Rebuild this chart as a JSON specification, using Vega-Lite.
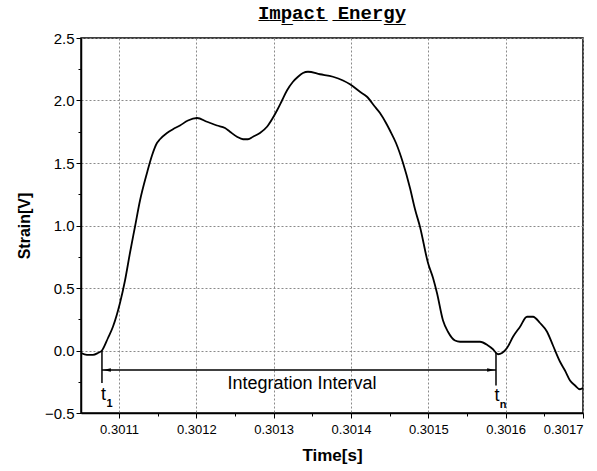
{
  "$schema": "https://vega.github.io/schema/vega-lite/v6.json",
  "width": 502,
  "height": 375,
  "autosize": "none",
  "padding": {"left": 81, "top": 38, "right": 14, "bottom": 58},
  "background": "white",
  "title": {
    "text": "I̲m̲p̲a̲c̲t̲ ̲E̲n̲e̲r̲g̲y̲",
    "font": "Liberation Mono",
    "fontSize": 19,
    "fontWeight": "bold",
    "color": "black",
    "anchor": "middle",
    "offset": 8
  },
  "config": {
    "view": {"stroke": "black", "strokeWidth": 1.5},
    "axis": {
      "domainColor": "black",
      "domainWidth": 1.5,
      "tickColor": "black",
      "labelColor": "black",
      "titleColor": "black",
      "labelFont": "Liberation Sans",
      "titleFont": "Liberation Sans",
      "grid": true,
      "gridColor": "#8a8a8a",
      "gridDash": [2, 2],
      "gridWidth": 1
    }
  },
  "datasets": {
    "curve": [
      {"t": 0.3010509, "v": -0.02},
      {"t": 0.3010586, "v": -0.035},
      {"t": 0.3010664, "v": -0.035},
      {"t": 0.3010728, "v": -0.02},
      {"t": 0.3010780, "v": 0.0},
      {"t": 0.3010858, "v": 0.10},
      {"t": 0.3010922, "v": 0.19},
      {"t": 0.3011013, "v": 0.38},
      {"t": 0.3011078, "v": 0.56},
      {"t": 0.3011142, "v": 0.78},
      {"t": 0.3011207, "v": 0.99},
      {"t": 0.3011272, "v": 1.20},
      {"t": 0.3011362, "v": 1.42},
      {"t": 0.3011427, "v": 1.56},
      {"t": 0.3011491, "v": 1.66},
      {"t": 0.3011530, "v": 1.69},
      {"t": 0.3011621, "v": 1.74},
      {"t": 0.3011698, "v": 1.77},
      {"t": 0.3011789, "v": 1.80},
      {"t": 0.3011892, "v": 1.84},
      {"t": 0.3012009, "v": 1.86},
      {"t": 0.3012138, "v": 1.83},
      {"t": 0.3012267, "v": 1.80},
      {"t": 0.3012371, "v": 1.78},
      {"t": 0.3012435, "v": 1.75},
      {"t": 0.3012526, "v": 1.71},
      {"t": 0.3012604, "v": 1.69},
      {"t": 0.3012668, "v": 1.69},
      {"t": 0.3012733, "v": 1.71},
      {"t": 0.3012823, "v": 1.74},
      {"t": 0.3012914, "v": 1.79},
      {"t": 0.3012979, "v": 1.85},
      {"t": 0.3013043, "v": 1.92},
      {"t": 0.3013108, "v": 2.00},
      {"t": 0.3013172, "v": 2.08},
      {"t": 0.3013250, "v": 2.15},
      {"t": 0.3013315, "v": 2.19},
      {"t": 0.3013379, "v": 2.22},
      {"t": 0.3013444, "v": 2.23},
      {"t": 0.3013599, "v": 2.21},
      {"t": 0.3013767, "v": 2.19},
      {"t": 0.3013897, "v": 2.16},
      {"t": 0.3013987, "v": 2.13},
      {"t": 0.3014116, "v": 2.07},
      {"t": 0.3014207, "v": 2.03},
      {"t": 0.3014310, "v": 1.95},
      {"t": 0.3014375, "v": 1.90},
      {"t": 0.3014453, "v": 1.82},
      {"t": 0.3014504, "v": 1.76},
      {"t": 0.3014582, "v": 1.66},
      {"t": 0.3014673, "v": 1.50},
      {"t": 0.3014763, "v": 1.30},
      {"t": 0.3014828, "v": 1.13},
      {"t": 0.3014892, "v": 0.99},
      {"t": 0.3014996, "v": 0.70},
      {"t": 0.3015061, "v": 0.58},
      {"t": 0.3015112, "v": 0.46},
      {"t": 0.3015190, "v": 0.24},
      {"t": 0.3015254, "v": 0.15},
      {"t": 0.3015345, "v": 0.08},
      {"t": 0.3015410, "v": 0.07},
      {"t": 0.3015539, "v": 0.07},
      {"t": 0.3015668, "v": 0.07},
      {"t": 0.3015772, "v": 0.04},
      {"t": 0.3015836, "v": 0.01},
      {"t": 0.3015901, "v": -0.03},
      {"t": 0.3015953, "v": -0.02},
      {"t": 0.3016017, "v": 0.02},
      {"t": 0.3016095, "v": 0.11},
      {"t": 0.3016186, "v": 0.19},
      {"t": 0.3016276, "v": 0.27},
      {"t": 0.3016354, "v": 0.27},
      {"t": 0.3016444, "v": 0.22},
      {"t": 0.3016535, "v": 0.15},
      {"t": 0.3016612, "v": 0.04},
      {"t": 0.3016703, "v": -0.09},
      {"t": 0.3016767, "v": -0.16},
      {"t": 0.3016832, "v": -0.24},
      {"t": 0.3016897, "v": -0.28},
      {"t": 0.3016961, "v": -0.31},
      {"t": 0.3017000, "v": -0.30}
    ],
    "markers": [
      {"t": 0.3010780, "v": 0.0, "v2": -0.26},
      {"t": 0.3015875, "v": -0.02, "v2": -0.28}
    ],
    "interval": [
      {"t": 0.3010780, "t2": 0.3015875, "v": -0.156}
    ],
    "heads": [
      {"t": 0.3010845, "v": -0.156, "dir": "left"},
      {"t": 0.3015810, "v": -0.156, "dir": "right"}
    ],
    "labels": [
      {"t": 0.3013367, "v": -0.268, "text": "Integration Interval"}
    ],
    "tlabels": [
      {"t": 0.3010800, "v": -0.396, "sub": "1"},
      {"t": 0.3015888, "v": -0.404, "sub": "n"}
    ]
  },
  "encoding": {
    "x": {
      "field": "t",
      "type": "quantitative",
      "scale": {"domain": [0.3010509, 0.3017], "nice": false, "zero": false},
      "axis": {
        "title": "Time[s]",
        "titleFontSize": 17,
        "titleFontWeight": "bold",
        "titlePadding": 11,
        "values": [0.30105, 0.3011, 0.30115, 0.3012, 0.30125, 0.3013, 0.30135, 0.3014, 0.30145, 0.3015, 0.30155, 0.3016, 0.30165, 0.3017],
        "labelExpr": "round(datum.value*20000) % 2 == 0 ? format(datum.value, '.4f') : ''",
        "labelFontSize": 13,
        "labelPadding": 5,
        "tickSize": {"condition": {"test": "round(datum.value*20000) % 2 == 0", "value": 5}, "value": 3},
        "gridOpacity": {"condition": {"test": "round(datum.value*20000) % 2 == 0", "value": 1}, "value": 0}
      }
    },
    "y": {
      "field": "v",
      "type": "quantitative",
      "scale": {"domain": [-0.5, 2.5], "nice": false, "zero": false},
      "axis": {
        "title": "Strain[V]",
        "titleFontSize": 16,
        "titleFontWeight": "bold",
        "titlePadding": 12,
        "values": [-0.5, -0.25, 0, 0.25, 0.5, 0.75, 1, 1.25, 1.5, 1.75, 2, 2.25, 2.5],
        "labelExpr": "round(datum.value*4) % 2 == 0 ? format(datum.value, '.1f') : ''",
        "labelFontSize": 15,
        "labelPadding": 2,
        "tickSize": {"condition": {"test": "round(datum.value*4) % 2 == 0", "value": 5}, "value": 3},
        "gridOpacity": {"condition": {"test": "round(datum.value*4) % 2 == 0", "value": 1}, "value": 0}
      }
    }
  },
  "layer": [
    {
      "data": {"name": "curve"},
      "mark": {"type": "line", "color": "black", "strokeWidth": 1.8, "interpolate": "monotone"}
    },
    {
      "data": {"name": "markers"},
      "mark": {"type": "rule", "color": "black", "strokeWidth": 1.5},
      "encoding": {"y2": {"field": "v2"}}
    },
    {
      "data": {"name": "interval"},
      "mark": {"type": "rule", "color": "black", "strokeWidth": 1.3},
      "encoding": {"x2": {"field": "t2"}}
    },
    {
      "data": {"name": "heads"},
      "mark": {"type": "point", "filled": true, "color": "black", "opacity": 1, "size": 60},
      "encoding": {
        "shape": {
          "field": "dir",
          "type": "nominal",
          "scale": {"domain": ["left", "right"], "range": ["M -1 0 L 1 -0.45 L 1 0.45 Z", "M 1 0 L -1 -0.45 L -1 0.45 Z"]},
          "legend": null
        }
      }
    },
    {
      "data": {"name": "labels"},
      "mark": {"type": "text", "font": "Liberation Sans", "fontSize": 18, "color": "black", "align": "center", "baseline": "middle"},
      "encoding": {"text": {"field": "text"}}
    },
    {
      "data": {"name": "tlabels"},
      "mark": {"type": "text", "font": "Liberation Sans", "fontSize": 18, "color": "black", "align": "center", "baseline": "alphabetic", "text": "t"}
    },
    {
      "data": {"name": "tlabels"},
      "mark": {"type": "text", "font": "Liberation Sans", "fontSize": 11, "fontWeight": "bold", "color": "black", "align": "center", "baseline": "alphabetic", "dx": 6, "dy": 7},
      "encoding": {"text": {"field": "sub"}}
    }
  ]
}
